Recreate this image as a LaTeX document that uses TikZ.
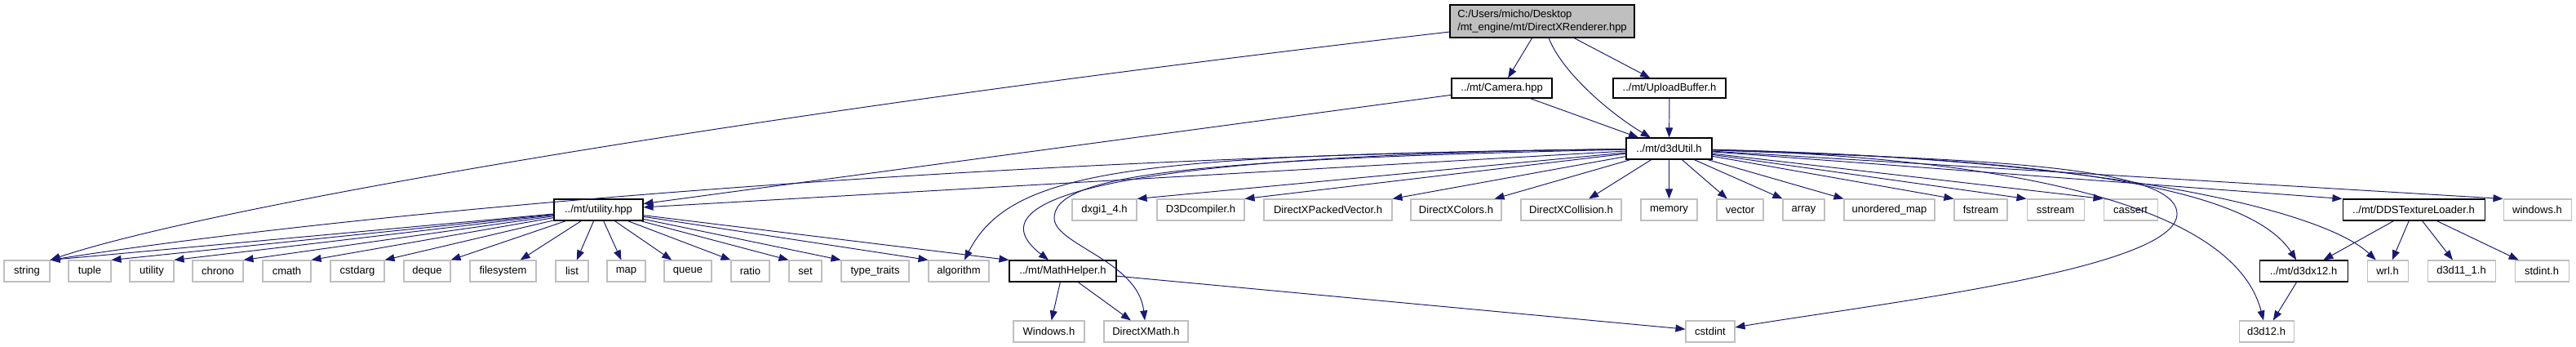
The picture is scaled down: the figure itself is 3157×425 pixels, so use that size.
\documentclass[tikz,border=0pt]{standalone}
\usepackage{fontspec}
\setmainfont{Liberation Sans}
\usepackage{xcolor}
\usetikzlibrary{arrows.meta}

\definecolor{edgeblue}{HTML}{191970}
\definecolor{sysgray}{HTML}{BFBFBF}

\tikzset{
  file/.style={draw=black, line width=0.6pt, minimum height=5.2mm, inner sep=0pt,
    font=\fontsize{7.4pt}{9.1pt}\selectfont},
  sysfile/.style={draw=sysgray, line width=0.6pt, minimum height=5.2mm, inner sep=0pt,
    font=\fontsize{7.4pt}{9.1pt}\selectfont},
  dep/.style={edgeblue, line width=0.55pt, -{Triangle[length=2.4mm,width=1.8mm]}}
}

\begin{document}
\begin{tikzpicture}[x=0.2mm, y=-0.2mm]
    \useasboundingbox (0,0) rectangle (3157,425);

    % Draw the documented files
    \node[file, fill=sysgray, minimum width=45.2mm, minimum height=8mm, align=left] (renderer) at (1890,26)
        {C:/Users/micho/Desktop\\/mt\_engine/mt/DirectXRenderer.hpp};
    \node[file, minimum width=24.6mm, minimum height=4.8mm] (camera) at (1840.5,108) {../mt/Camera.hpp};
    \node[file, minimum width=27.6mm, minimum height=4.8mm] (upload) at (2046,108) {../mt/UploadBuffer.h};
    \node[file, minimum width=21mm] (d3dutil) at (2045.5,182) {../mt/d3dUtil.h};
    \node[file, minimum width=21.8mm] (utilhpp) at (733.5,257) {../mt/utility.hpp};
    \node[file, minimum width=34.8mm] (dds) at (2958,257) {../mt/DDSTextureLoader.h};
    \node[file, minimum width=26.2mm] (mathhelper) at (1302.5,332) {../mt/MathHelper.h};
    \node[file, minimum width=21.6mm] (d3dx12) at (2823,332) {../mt/d3dx12.h};

    % Draw the system headers, one row at a time
    \foreach \nm/\lbl/\px/\bw in {dxgi/dxgi1\_4.h/1353.5/79, d3dcompiler/D3Dcompiler.h/1471.5/107,
        packedvector/DirectXPackedVector.h/1627.5/157, colors/DirectXColors.h/1784.5/111,
        collision/DirectXCollision.h/1925.5/123, memory/memory/2045.5/69, vector/vector/2132.5/57,
        array/array/2210.5/51, unorderedmap/unordered\_map/2315.5/111, fstream/fstream/2427.5/65,
        sstream/sstream/2519/70, cassert/cassert/2611/66, windows/windows.h/3109.5/83}
        \node[sysfile, minimum width=\bw*0.2mm] (\nm) at (\px,257) {\lbl};

    \foreach \nm/\lbl/\px/\bw in {string/string/33/56, tuple/tuple/110/52, utility/utility/186/54,
        chrono/chrono/267/62, cmath/cmath/351.5/59, cstdarg/cstdarg/438/66, deque/deque/523.5/57,
        filesystem/filesystem/616.5/81, list/list/701/40, map/map/767.5/47, queue/queue/843/58,
        ratio/ratio/919.5/47, set/set/987/40, typetraits/type\_traits/1072.5/83,
        algorithm/algorithm/1175/74, wrl/wrl.h/2926/50, d3delevenone/d3d11\_1.h/3016.5/83,
        stdint/stdint.h/3115/66}
        \node[sysfile, minimum width=\bw*0.2mm] (\nm) at (\px,332) {\lbl};

    \foreach \nm/\lbl/\px/\bw in {Windows/Windows.h/1285.5/87, dxmath/DirectXMath.h/1404.5/103,
        cstdint/cstdint/2096/60, d3dtwelve/d3d12.h/2777.5/67}
        \node[sysfile, minimum width=\bw*0.2mm] (\nm) at (\px,406) {\lbl};

    % Includes of DirectXRenderer.hpp
    \draw[dep] (renderer) -- (camera);
    \draw[dep] (renderer) -- (upload);
    \draw[dep] (renderer) .. controls (1915,90) and (1975,140) .. (d3dutil);
    \draw[dep] (renderer) .. controls (900,140) and (250,255) .. (string.north east);

    % Camera.hpp and UploadBuffer.h
    \draw[dep] (camera) -- (d3dutil);
    \draw[dep] (camera) -- (utilhpp);
    \draw[dep] (upload) -- (d3dutil);

    % Includes of d3dUtil.h
    \draw[dep] (d3dutil) -- (utilhpp);
    \draw[dep] (d3dutil) .. controls (1300,190) and (500,250) .. (string.north east);
    \draw[dep] (d3dutil) .. controls (1400,190) and (1240,205) .. (algorithm);
    \draw[dep] (d3dutil) .. controls (1350,190) and (1190,245) .. (mathhelper);
    \draw[dep] (d3dutil) .. controls (1450,195) and (1290,215) .. (1292,268)
        .. controls (1294,300) and (1395,320) .. (dxmath);
    \foreach \t in {dxgi, d3dcompiler, packedvector}
        \draw[dep] (d3dutil) -- (\t.north east);
    \foreach \t in {colors, collision, memory, vector}
        \draw[dep] (d3dutil) -- (\t);
    \foreach \t in {array, unorderedmap, fstream, sstream, cassert, dds, windows}
        \draw[dep] (d3dutil) -- (\t.north west);
    \draw[dep] (d3dutil) .. controls (2550,195) and (2760,235) .. (d3dx12);
    \draw[dep] (d3dutil) .. controls (2600,195) and (2850,260) .. (wrl);
    \draw[dep] (d3dutil) .. controls (2500,195) and (2740,260) .. (d3dtwelve);
    \draw[dep] (d3dutil) .. controls (2400,195) and (2668,200) .. (2668,262)
        .. controls (2668,330) and (2300,372) .. (cstdint);

    % Includes of utility.hpp
    \foreach \t in {string, tuple, utility, chrono, cmath, cstdarg, deque}
        \draw[dep] (utilhpp) -- (\t.north east);
    \foreach \t in {filesystem, list, map, queue}
        \draw[dep] (utilhpp) -- (\t);
    \foreach \t in {ratio, set, typetraits, algorithm, mathhelper}
        \draw[dep] (utilhpp) -- (\t.north west);

    % Includes of MathHelper.h, DDSTextureLoader.h and d3dx12.h
    \foreach \t in {Windows, dxmath, cstdint}
        \draw[dep] (mathhelper) -- (\t);
    \foreach \t in {d3dx12, wrl, d3delevenone, stdint}
        \draw[dep] (dds) -- (\t);
    \draw[dep] (d3dx12) -- (d3dtwelve);
\end{tikzpicture}
\end{document}
